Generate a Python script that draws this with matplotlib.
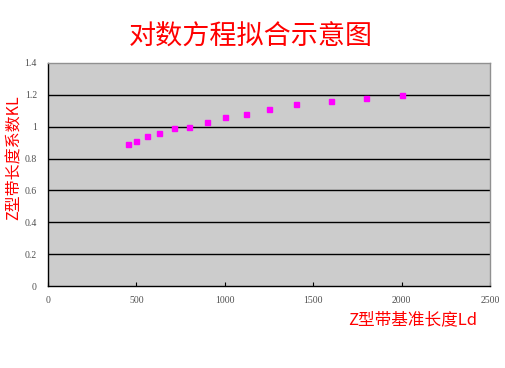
import matplotlib.pyplot as plt
import numpy as np

plt.rcParams['font.family'] = ['Noto Sans CJK SC', 'DejaVu Sans']

# Z型带基准长度 Ld (mm) 与长度系数 KL
ld = [450, 500, 560, 630, 710, 800, 900, 1000, 1120, 1250, 1400, 1600, 1800, 2000]
kl = [0.89, 0.91, 0.94, 0.96, 0.99, 1.00, 1.03, 1.06, 1.08, 1.11, 1.14, 1.16, 1.18, 1.20]

title = "对数方程拟合示意图"
xlabel = "Z型带基准长度Ld"
ylabel = "Z型带长度系数KL"


def main():
    fig = plt.figure(figsize=(5.06, 3.68), dpi=100)
    ax = fig.add_axes([48 / 506, 1 - 286 / 368, 442 / 506, 223 / 368])
    ax.set_facecolor("#cccccc")

    ax.set_xlim(0, 2500)
    ax.set_ylim(0, 1.4)
    ax.set_xticks(np.arange(0, 2501, 500))
    ax.set_yticks(np.arange(0, 1.41, 0.2))
    ax.set_yticklabels(["0", "0.2", "0.4", "0.6", "0.8", "1", "1.2", "1.4"])

    # horizontal grid lines
    for y in np.arange(0.2, 1.3, 0.2):
        ax.axhline(y, color="black", lw=1.0, zorder=1)

    ax.plot(ld, kl, ls="none", marker="s", ms=3.6, color="#ff00ff",
            mec="#ff00ff", zorder=3)

    for s in ["top", "right"]:
        ax.spines[s].set_color("#909090")
    for s in ["left", "bottom"]:
        ax.spines[s].set_color("black")
    for s in ax.spines.values():
        s.set_linewidth(1.0)

    ax.tick_params(axis="x", direction="in", length=3, pad=7,
                   labelsize=7, labelcolor="#505050")
    ax.tick_params(axis="y", length=0, pad=8, labelsize=7, labelcolor="#505050")
    for lab in ax.get_xticklabels() + ax.get_yticklabels():
        lab.set_family(["Liberation Serif", "DejaVu Serif"])

    fig.text(251 / 506, 1 - 37 / 368, title, color="red", fontsize=19.5,
             ha="center", va="center")
    fig.text(477 / 506, 1 - 320 / 368, xlabel, color="red", fontsize=12,
             ha="right", va="center")
    fig.text(14 / 506, 1 - 158 / 368, ylabel, color="red", fontsize=11.5,
             ha="center", va="center", rotation=90)

    fig.savefig("out.png", dpi=100)


if __name__ == "__main__":
    main()
